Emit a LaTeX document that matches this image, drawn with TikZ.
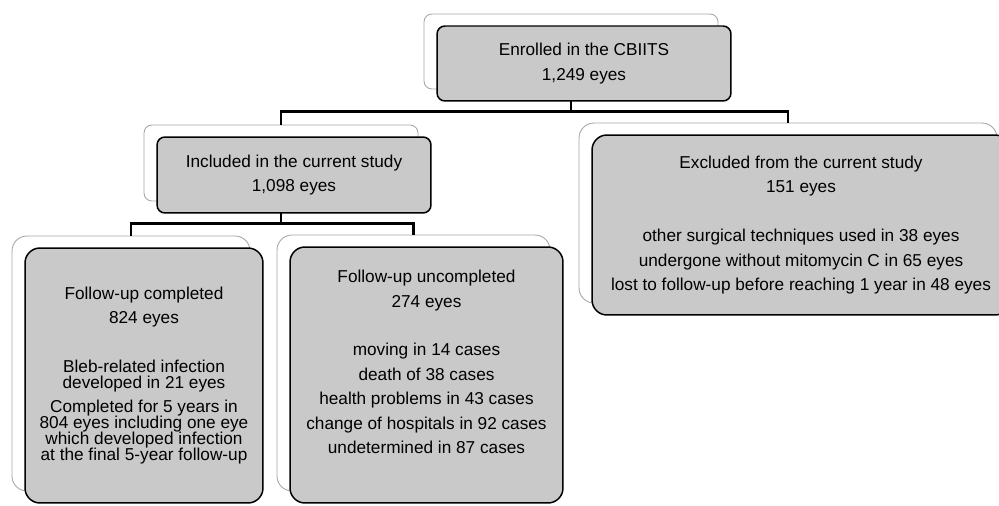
\documentclass[tikz,border=0pt]{standalone}
\usepackage{fontspec}
\setmainfont{Liberation Sans}
\begin{document}
\begin{tikzpicture}
[x=0.02cm,y=-0.02cm,%
  every node/.style={shape=rectangle,align=center,inner sep=0pt,rounded corners=8.5pt},%
  back/.style={draw=black!35,fill=white,line width=0.5pt},%
  front/.style={draw=black,fill=black!21,line width=0.85pt},%
  small/.style={rounded corners=4.5pt},%
  elbow/.style={draw,line width=1.3pt,to path={-- ++(0,22) -| (\tikztotarget)}}]
\fontsize{9.8}{13.9}\selectfont
\useasboundingbox (0,0) rectangle (999,506);
\node[back,small,minimum width=5.88cm,minimum height=1.5cm] (1249s) at (571,51.5) {};
\node[back,small,minimum width=5.48cm,minimum height=1.52cm] (1098s) at (281,163) {};
\node[back,minimum width=8.36cm,minimum height=3.6cm] (151s) at (788,213) {};
\node[back,minimum width=4.76cm,minimum height=5.1cm] (824s) at (131,363.5) {};
\node[back,minimum width=5.46cm,minimum height=5.12cm] (274s) at (413.5,363) {};
\path
(1249s.south) edge[elbow] (1098s.north)
(1249s.south) edge[elbow] (151s.north)
(1098s.south) edge[elbow] (824s.north)
(1098s.south) edge[elbow] (274s.north);
\node[front,small,minimum width=5.88cm,minimum height=1.5cm] (1249) at (584,63.5)
  {Enrolled in the CBIITS\\1,249 eyes};
\node[front,small,minimum width=5.48cm,minimum height=1.52cm] (1098) at (294,175)
  {Included in the current study\\1,098 eyes};
\node[front,minimum width=8.36cm,minimum height=3.6cm] (151) at (801,225)
  {Excluded from the current study\\151 eyes\\[13.9pt]
   other surgical techniques used in 38 eyes\\
   undergone without mitomycin C in 65 eyes\\
   lost to follow-up before reaching 1 year in 48 eyes};
\node[front,minimum width=4.76cm,minimum height=5.1cm] (824) at (144,375.5)
  {Follow-up completed\\824 eyes\\[13.9pt]
   Bleb-related infection\\[-4.8pt]developed in 21 eyes\\
   Completed for 5 years in\\[-4.8pt]804 eyes including one eye\\[-4.8pt]
   which developed infection\\[-4.8pt]at the final 5-year follow-up};
\node[front,text depth=15pt,minimum width=5.46cm,minimum height=5.12cm] (274) at (426.5,375)
  {Follow-up uncompleted\\274 eyes\\[13.9pt]
   moving in 14 cases\\death of 38 cases\\health problems in 43 cases\\
   change of hospitals in 92 cases\\undetermined in 87 cases};
\end{tikzpicture}
\end{document}
